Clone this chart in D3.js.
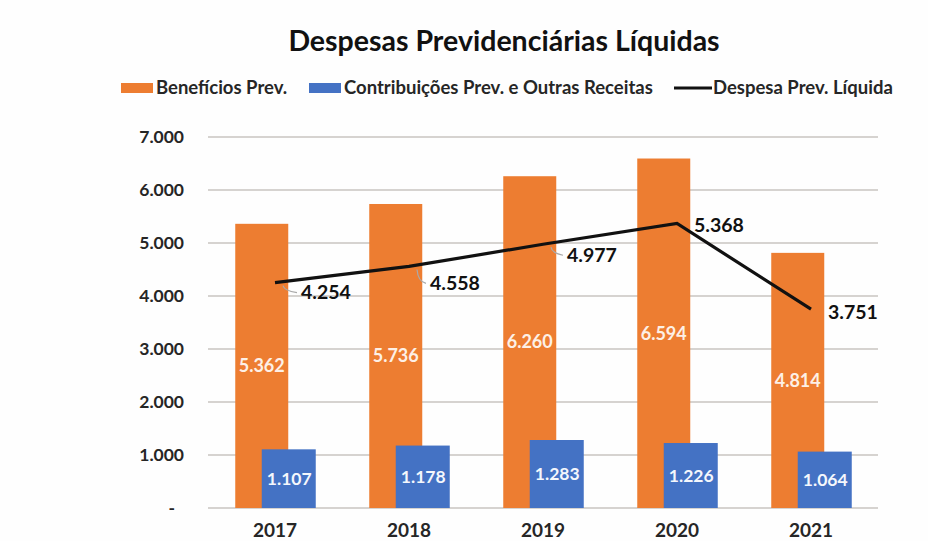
<!DOCTYPE html>
<html>
<head>
<meta charset="utf-8">
<script src="https://cdn.jsdelivr.net/npm/d3@7"></script>
<style>
  body { margin: 0; background: #fff; }
  svg { display: block; font-family: Lato, "Open Sans", sans-serif; font-weight: bold; }
</style>
</head>
<body>
<div id="chart"></div>
<script>
const years = ["2017", "2018", "2019", "2020", "2021"];
const beneficios = [5362, 5736, 6260, 6594, 4814];
const contribuicoes = [1107, 1178, 1283, 1226, 1064];
const despesaLiquida = [4254, 4558, 4977, 5368, 3751];
const yTicks = [0, 1000, 2000, 3000, 4000, 5000, 6000, 7000];
const seriesNames = ["Benefícios Prev.", "Contribuições Prev. e Outras Receitas", "Despesa Prev. Líquida"];

// label nudges for the line values (dx, dy from the point)
const lineLabelOffsets = [[26, 10], [21, 17], [24, 11], [17, 2], [17, 3]];

const width = 928, height = 541;
const orange = "#ed7d31", blue = "#4472c4";

const br = d3.formatLocale({ decimal: ",", thousands: ".", grouping: [3], currency: ["R$", ""] });
const fmt = br.format(",d");

const svg = d3.select("#chart").append("svg")
  .attr("width", width)
  .attr("height", height);

svg.append("rect").attr("width", width).attr("height", height).attr("fill", "#fefefe");

const x = d3.scaleBand().domain(years).range([208, 878]);
const y = d3.scaleLinear().domain([0, 7000]).range([508, 137]);

// gridlines
svg.append("g")
  .selectAll("line")
  .data(yTicks)
  .join("line")
  .attr("x1", 208).attr("x2", 878)
  .attr("y1", d => y(d)).attr("y2", d => y(d))
  .attr("stroke", "#d6d3d0")
  .attr("stroke-width", 2);

// y axis
const yAxis = svg.append("g")
  .attr("transform", "translate(184,0)")
  .call(d3.axisLeft(y).tickValues(yTicks).tickSize(0).tickPadding(0)
    .tickFormat(d => d === 0 ? "-" : fmt(d)));
yAxis.select(".domain").remove();
yAxis.selectAll("text")
  .attr("font-size", 17.5)
  .attr("font-family", "Lato, sans-serif")
  .attr("font-weight", "bold")
  .attr("fill", "#262626")
  .attr("dx", d => d === 0 ? -9 : 0);

// x axis
const xAxis = svg.append("g")
  .attr("transform", "translate(0,537)")
  .call(d3.axisBottom(x).tickSize(0).tickPadding(0));
xAxis.select(".domain").remove();
xAxis.selectAll("text")
  .attr("dy", 0)
  .attr("font-size", 19)
  .attr("font-family", "Lato, sans-serif")
  .attr("font-weight", "bold")
  .attr("fill", "#262626");

const bw = 53;
const barX = (yr, k) => x(yr) + x.bandwidth() / 2 - (bw * 1.5) / 2 + k * bw / 2;

// orange bars
svg.append("g")
  .selectAll("rect")
  .data(beneficios)
  .join("rect")
  .attr("x", (d, i) => barX(years[i], 0))
  .attr("y", d => y(d))
  .attr("width", bw)
  .attr("height", d => y(0) - y(d))
  .attr("fill", orange);

svg.append("g")
  .selectAll("text")
  .data(beneficios)
  .join("text")
  .attr("x", (d, i) => barX(years[i], 0) + bw / 2)
  .attr("y", d => y(d / 2))
  .attr("dy", "0.35em")
  .attr("text-anchor", "middle")
  .attr("font-size", 18)
  .attr("fill", "#fdf0e6")
  .text(d => fmt(d));

// blue bars
svg.append("g")
  .selectAll("rect")
  .data(contribuicoes)
  .join("rect")
  .attr("x", (d, i) => barX(years[i], 1))
  .attr("y", d => y(d))
  .attr("width", bw + 1)
  .attr("height", d => y(0) - y(d))
  .attr("fill", blue);

svg.append("g")
  .selectAll("text")
  .data(contribuicoes)
  .join("text")
  .attr("x", (d, i) => barX(years[i], 1) + bw / 2 + 1)
  .attr("y", d => y(d / 2))
  .attr("dy", "0.35em")
  .attr("text-anchor", "middle")
  .attr("font-size", 17.5)
  .attr("fill", "#f4f7fc")
  .text(d => fmt(d));

// line
const cx = yr => x(yr) + x.bandwidth() / 2;
const line = d3.line()
  .x((d, i) => cx(years[i]))
  .y(d => y(d));

svg.append("path")
  .datum(despesaLiquida)
  .attr("d", line)
  .attr("fill", "none")
  .attr("stroke", "#111")
  .attr("stroke-width", 3.2)
  .attr("stroke-linejoin", "miter");

// small leader lines for the first three labels
svg.append("g")
  .selectAll("path")
  .data(despesaLiquida.slice(0, 3))
  .join("path")
  .attr("d", (d, i) => {
    const px = cx(years[i]), py = y(d);
    const [ox, oy] = lineLabelOffsets[i];
    return `M${px + 8},${py + 3} Q${px + 9},${py + oy - 2} ${px + ox - 4},${py + oy}`;
  })
  .attr("fill", "none")
  .attr("stroke", "#a9a9a9")
  .attr("stroke-width", 1.2);

svg.append("g")
  .selectAll("text")
  .data(despesaLiquida)
  .join("text")
  .attr("x", (d, i) => cx(years[i]) + lineLabelOffsets[i][0])
  .attr("y", (d, i) => y(d) + lineLabelOffsets[i][1])
  .attr("dy", "0.35em")
  .attr("font-size", 19.5)
  .attr("fill", "#111")
  .text(d => fmt(d));

// title
svg.append("text")
  .attr("x", 504)
  .attr("y", 51)
  .attr("text-anchor", "middle")
  .attr("font-size", 28.5)
  .attr("fill", "#111")
  .text("Despesas Previdenciárias Líquidas");

// legend
const legendItems = [
  { name: seriesNames[0], type: "rect", color: orange, x: 121 },
  { name: seriesNames[1], type: "rect", color: blue, x: 309 },
  { name: seriesNames[2], type: "line", color: "#111", x: 674 }
];
const lg = svg.append("g").selectAll("g")
  .data(legendItems)
  .join("g")
  .attr("transform", d => `translate(${d.x},88)`);
lg.filter(d => d.type === "rect").append("rect")
  .attr("x", 0).attr("y", -5).attr("width", 32).attr("height", 10)
  .attr("fill", d => d.color);
lg.filter(d => d.type === "line").append("line")
  .attr("x1", 0).attr("x2", 38).attr("y1", 0).attr("y2", 0)
  .attr("stroke", d => d.color).attr("stroke-width", 3);
lg.append("text")
  .attr("x", d => d.type === "rect" ? 35 : 39)
  .attr("dy", "0.35em")
  .attr("font-size", 18.5)
  .attr("fill", "#262626")
  .text(d => d.name);
</script>
</body>
</html>
